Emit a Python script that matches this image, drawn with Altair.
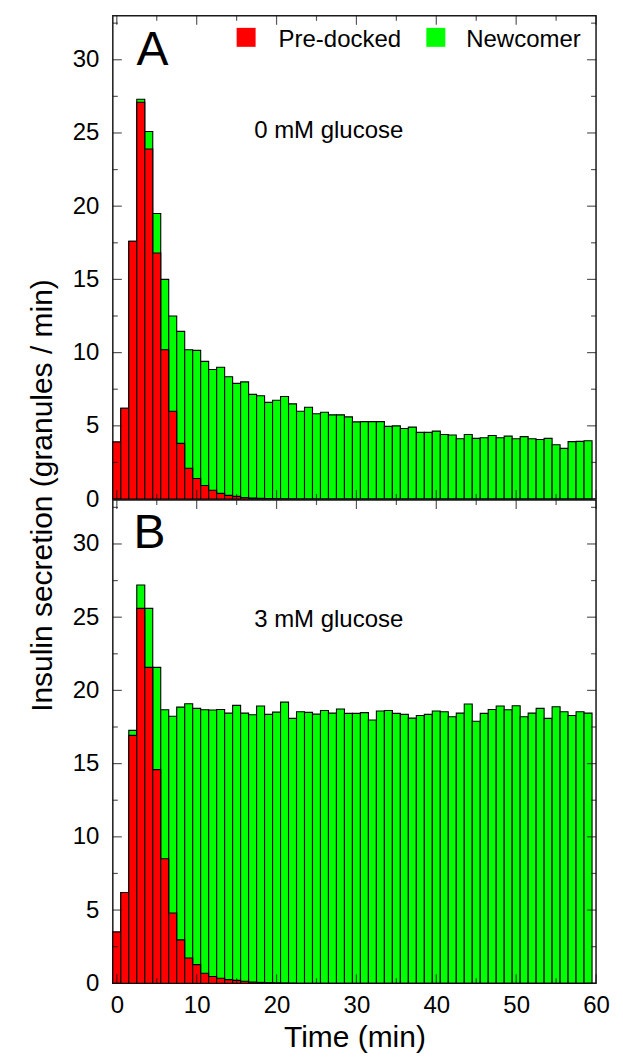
import altair as alt
import pandas as pd

# ---------------- data ----------------
time_min = list(range(60))

a_total = [3.9, 6.2, 17.6, 27.3, 25.1, 19.5, 15.0, 12.5, 11.45, 10.2,
           10.15, 9.4, 8.85, 9.0, 8.35, 7.9, 8.0, 7.15, 7.05, 6.6,
           6.75, 7.0, 6.5, 6.0, 6.27, 5.82, 5.93, 5.75, 5.75, 5.61,
           5.27, 5.29, 5.29, 5.29, 4.96, 5.0, 4.82, 4.91, 4.55, 4.55,
           4.64, 4.41, 4.37, 4.12, 4.41, 4.14, 4.19, 4.34, 4.19, 4.3,
           4.12, 4.26, 4.12, 4.07, 4.14, 3.71, 3.46, 3.92, 3.94, 3.98]
a_red = [3.9, 6.2, 17.6, 27.1, 23.9, 16.8, 10.2, 6.0, 3.8, 2.1,
         1.4, 0.93, 0.6, 0.39, 0.25, 0.18, 0.11, 0.07, 0.05, 0.03,
         0.02, 0.015, 0.01, 0.005, 0, 0, 0, 0, 0, 0,
         0, 0, 0, 0, 0, 0, 0, 0, 0, 0,
         0, 0, 0, 0, 0, 0, 0, 0, 0, 0,
         0, 0, 0, 0, 0, 0, 0, 0, 0, 0]

b_total = [3.5, 6.2, 17.27, 27.2, 25.6, 21.57, 18.68, 18.23, 18.86, 19.09,
           18.77, 18.68, 18.66, 18.7, 18.45, 18.98, 18.45, 18.34, 18.93, 18.36,
           18.52, 19.2, 18.09, 18.54, 18.5, 18.38, 18.63, 18.45, 18.73, 18.43,
           18.43, 18.48, 17.98, 18.59, 18.63, 18.43, 18.36, 18.11, 18.29, 18.36,
           18.59, 18.54, 18.2, 18.45, 19.07, 17.89, 18.43, 18.7, 18.93, 18.68,
           18.95, 18.2, 18.45, 18.77, 18.09, 18.88, 18.54, 18.29, 18.54, 18.45]
b_red = [3.5, 6.2, 16.93, 25.6, 21.57, 14.59, 8.5, 4.8, 2.96, 1.73,
         1.27, 0.68, 0.46, 0.34, 0.25, 0.2, 0.14, 0.09, 0.06, 0.04,
         0.03, 0.02, 0.01, 0, 0, 0, 0, 0, 0, 0,
         0, 0, 0, 0, 0, 0, 0, 0, 0, 0,
         0, 0, 0, 0, 0, 0, 0, 0, 0, 0,
         0, 0, 0, 0, 0, 0, 0, 0, 0, 0]

x_labels = [0, 10, 20, 30, 40, 50, 60]
x_minor = [5, 15, 25, 35, 45, 55]
y_labels = [0, 5, 10, 15, 20, 25, 30]
y_minor = [2.5, 7.5, 12.5, 17.5, 22.5, 27.5, 32.5]

series_names = ["Pre-docked", "Newcomer"]
series_colors = ["#ff0000", "#00ff00"]
legend_sym_x = [16.19, 39.94]
legend_sym_y = [31.53, 31.53]
legend_txt_x = [20.25, 43.75]
legend_txt_y = [30.88, 30.88]

panel_letters = ["A", "B"]
letter_x = [4.47, 4.1]
letter_y = [29.65, 29.7]
conditions = ["0 mM glucose", "3 mM glucose"]
cond_x = [17.2, 17.2]
cond_y = [24.68, 24.3]

FONT = "Liberation Sans"
X_DOMAIN = [-0.5, 60]
Y_DOMAIN = [0, 33]
W = 484
H = 484

xscale = alt.Scale(domain=X_DOMAIN, nice=False, zero=False)
yscale = alt.Scale(domain=Y_DOMAIN, nice=False, zero=False)


def make_axes(show_xaxis, show_ytitle):
    if show_xaxis:
        xaxis = alt.Axis(values=x_labels, labelPadding=10, labelFlush=False,
                         title="Time (min)", titlePadding=5, ticks=False,
                         domain=False, grid=False)
    else:
        xaxis = alt.Axis(values=x_labels, labels=False, ticks=False, domain=False,
                         grid=False, title="")
    if show_ytitle:
        yaxis = alt.Axis(values=y_labels, labelPadding=14, labelFlush=False,
                         ticks=False, domain=False, grid=False,
                         title="Insulin secretion (granules / min)",
                         titleAngle=270, titleX=-70, titleY=480,
                         titleAlign="center", titleBaseline="middle")
    else:
        yaxis = alt.Axis(values=y_labels, labelPadding=14, labelFlush=False,
                         ticks=False, domain=False, grid=False, title="")
    return xaxis, yaxis


def tick_layer(vals, side, length, xaxis, yaxis):
    df = pd.DataFrame({"v": vals})
    if side in ("bottom", "top"):
        off = -length / 2 if side == "bottom" else length / 2
        return alt.Chart(df).mark_tick(
            orient="vertical", size=length, thickness=1.2, color="#111", yOffset=off
        ).encode(
            x=alt.X("v:Q", scale=xscale, axis=xaxis),
            y=alt.YDatum(Y_DOMAIN[0] if side == "bottom" else Y_DOMAIN[1], scale=yscale, axis=yaxis),
        )
    off = length / 2 if side == "left" else -length / 2
    return alt.Chart(df).mark_tick(
        orient="horizontal", size=length, thickness=1.2, color="#111", xOffset=off
    ).encode(
        y=alt.Y("v:Q", scale=yscale, axis=yaxis),
        x=alt.XDatum(X_DOMAIN[0] if side == "left" else X_DOMAIN[1], scale=xscale, axis=xaxis),
    )


def panel(idx, total, red, show_xaxis, show_ytitle, show_legend):
    xaxis, yaxis = make_axes(show_xaxis, show_ytitle)
    df = pd.DataFrame({"t": time_min, "total": total, "red": red})
    base = alt.Chart(df).transform_calculate(x0="datum.t - 0.5", x1="datum.t + 0.5")

    green = base.mark_bar(fill="#00ff00", stroke="#000", strokeWidth=1.1).encode(
        x=alt.X("x0:Q", scale=xscale, axis=xaxis),
        x2="x1:Q",
        y=alt.Y("total:Q", scale=yscale, axis=yaxis),
        y2=alt.Y2Datum(0),
    )
    redbar = base.mark_bar(fill="#ff0000", stroke="#000", strokeWidth=1.1).encode(
        x=alt.X("x0:Q", scale=xscale, axis=xaxis),
        x2="x1:Q",
        y=alt.Y("red:Q", scale=yscale, axis=yaxis),
        y2=alt.Y2Datum(0),
    )

    layers = [green, redbar]

    for side in ("bottom", "top"):
        layers.append(tick_layer(x_labels, side, 9, xaxis, yaxis))
        layers.append(tick_layer(x_minor, side, 5, xaxis, yaxis))
    for side in ("left", "right"):
        layers.append(tick_layer(y_labels, side, 9, xaxis, yaxis))
        layers.append(tick_layer(y_minor, side, 5, xaxis, yaxis))

    letter_df = pd.DataFrame({"x": [letter_x[idx]], "y": [letter_y[idx]], "s": [panel_letters[idx]]})
    layers.append(alt.Chart(letter_df).mark_text(
        font=FONT, fontSize=48, align="center", baseline="alphabetic", color="#000"
    ).encode(
        x=alt.X("x:Q", scale=xscale, axis=xaxis),
        y=alt.Y("y:Q", scale=yscale, axis=yaxis),
        text="s:N",
    ))

    cond_df = pd.DataFrame({"x": [cond_x[idx]], "y": [cond_y[idx]], "s": [conditions[idx]]})
    layers.append(alt.Chart(cond_df).mark_text(
        font=FONT, fontSize=24, align="left", baseline="alphabetic", color="#000"
    ).encode(
        x=alt.X("x:Q", scale=xscale, axis=xaxis),
        y=alt.Y("y:Q", scale=yscale, axis=yaxis),
        text="s:N",
    ))

    if show_legend:
        leg_df = pd.DataFrame({
            "name": series_names, "col": series_colors,
            "sx": legend_sym_x, "sy": legend_sym_y,
            "tx": legend_txt_x, "ty": legend_txt_y,
        })
        layers.append(alt.Chart(leg_df).mark_square(size=361, opacity=1, strokeWidth=0).encode(
            x=alt.X("sx:Q", scale=xscale, axis=xaxis),
            y=alt.Y("sy:Q", scale=yscale, axis=yaxis),
            fill=alt.Fill("col:N", scale=None),
        ))
        layers.append(alt.Chart(leg_df).mark_text(
            font=FONT, fontSize=24, align="left", baseline="alphabetic", color="#000"
        ).encode(
            x=alt.X("tx:Q", scale=xscale, axis=xaxis),
            y=alt.Y("ty:Q", scale=yscale, axis=yaxis),
            text="name:N",
        ))

    return alt.layer(*layers).properties(width=W, height=H)


pa = panel(0, a_total, a_red, False, True, True)
pb = panel(1, b_total, b_red, True, False, False)

chart = alt.vconcat(pa, pb, spacing=1, bounds="flush").properties(
    padding={"left": 27, "top": 14, "right": 12, "bottom": 0},
    background="white",
).configure_view(
    stroke="#1a1a1a", strokeWidth=1.5
).configure_axis(
    labelFont=FONT, titleFont=FONT, labelFontSize=24, titleFontSize=30,
    labelColor="#000", titleColor="#000", titleFontWeight="normal",
)

chart.save("out.html", embed_options={"renderer": "svg", "actions": False})
